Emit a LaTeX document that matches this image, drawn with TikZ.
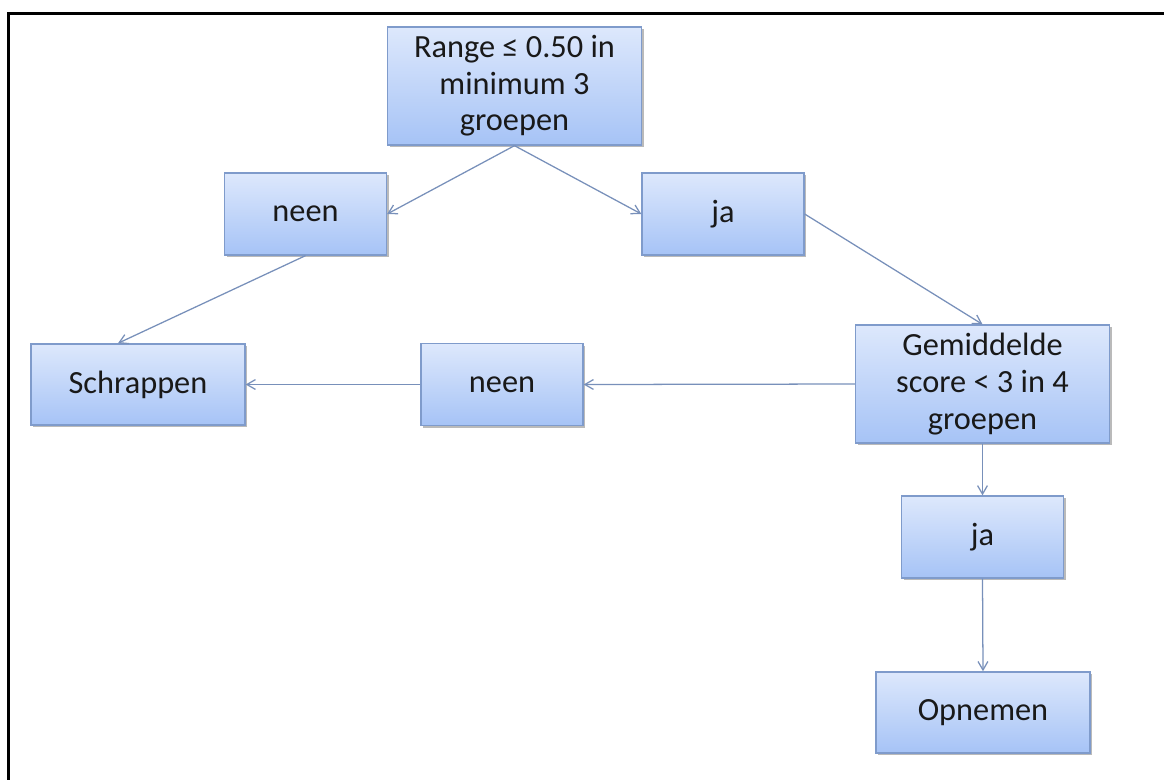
\documentclass[tikz,border=0pt]{standalone}
\usepackage{fontspec}
\setmainfont{Carlito}
\usetikzlibrary{arrows.meta,shadows}

\definecolor{boxtop}{HTML}{DDE8FC}
\definecolor{boxbot}{HTML}{A6C3F6}
\definecolor{boxline}{HTML}{7F9BCB}
\definecolor{arrline}{HTML}{7890BA}

\tikzset{
	block/.style={draw=boxline, line width=0.9pt, top color=boxtop, bottom color=boxbot,
		align=center, text=black!90, font=\fontsize{23}{26}\selectfont, inner sep=2pt,
		drop shadow={shadow xshift=1.6pt, shadow yshift=-1.6pt, opacity=0.45, fill=black!60}},
	small/.style={minimum width=4.05cm, minimum height=2.05cm},
	wide/.style={minimum width=5.35cm, minimum height=2.03cm},
	tall/.style={minimum width=6.35cm, minimum height=2.95cm},
}

\begin{document}
\begin{tikzpicture}[x=0.025cm, y=-0.025cm, arrows={-Straight Barb[angle=60:7pt]}, arrline, line width=0.9pt]
	\useasboundingbox (0,0) rectangle (1164,779);
	\clip (0,0) rectangle (1164,779);
	\draw [-, black, line width=1.8pt] (8.5,13.5) rectangle (1200,820);

	\node [block, tall] (range) at (514.5,86) {Range ≤ 0.50 in\\minimum 3\\groepen};
	\node [block, small] (neenA) at (305.5,214) {neen};
	\node [block, small] (jaA) at (723,214) {ja};
	\node [block, wide] (schrappen) at (138,384.5) {Schrappen};
	\node [block, small] (neenB) at (502,384.5) {neen};
	\node [block, tall] (gem) at (982.5,384) {Gemiddelde\\score < 3 in 4\\groepen};
	\node [block, small] (jaB) at (982.5,537) {ja};
	\node [block, wide] (opnemen) at (983,712.5) {Opnemen};

	\draw (range.south) -- (neenA.east);
	\draw (range.south) -- (jaA.west);
	\draw (neenA.south) -- ([xshift=-0.5cm]schrappen.north);
	\draw (jaA.east) -- (gem.north);
	\draw (gem.west) -- (neenB.east);
	\draw (neenB.west) -- (schrappen.east);
	\draw (gem.south) -- (jaB.north);
	\draw (jaB.south) -- (opnemen.north);
\end{tikzpicture}
\end{document}
